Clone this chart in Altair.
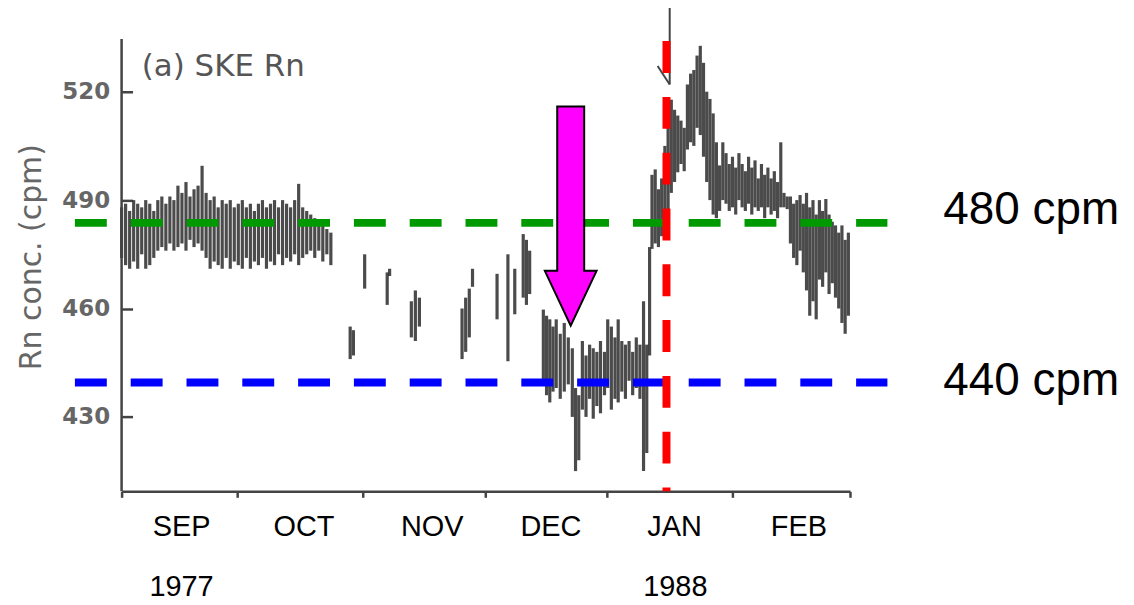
import altair as alt
import pandas as pd

# ---- scanned Rn series: day (since 1 Sep), low and high of each vertical trace ----
days = [0, 1, 2, 3, 4, 5, 6, 7, 8, 9, 10, 11, 12, 13, 14, 15, 16, 17, 18, 19, 20,
        21, 22, 23, 24, 25, 26, 27, 28, 29, 30, 31, 32, 33, 34, 35, 36, 37, 38, 39,
        40, 41, 42, 43, 44, 45, 46, 47, 48, 49, 50, 51, 52,
        56.8, 57.6, 60.4, 66, 66.6, 72, 73, 74, 84.6, 85.5, 86.4, 87.2, 93.3, 96,
        97.7, 99.8, 100.6, 101.4,
        104.8, 105.6, 106.4, 107.2, 108, 109, 110, 111, 112, 112.8, 113.6, 114.5,
        115.4, 116.3, 117.2, 118.1, 119, 120, 120.8, 121.7, 122.6, 123.4, 124.3,
        125.2, 126.1, 127, 127.9, 128.8, 129.7, 130.5, 131.2,
        131.8, 132.6, 133.4, 134.2, 135, 135.8, 136.6, 137.4, 138.2, 139, 139.8,
        140.6, 141.4, 142.2, 143, 143.8, 144.6, 145.4, 146.2, 147, 147.8, 148.6,
        149.4, 150.2, 151, 151.8, 152.6, 153.4, 154.2, 155, 155.8, 156.6, 157.4,
        158.2, 159, 159.8, 160.6, 161.4, 162.2, 163, 163.8, 164.6, 165.4, 166.2,
        167, 167.8, 168.6, 169.4, 170.2, 171, 171.8, 172.6, 173.4, 174.2, 175,
        175.8, 176.6, 177.4, 178.2, 179, 179.8, 180.6]
lows = [474, 472, 471, 473, 471, 475, 471, 472, 474, 476, 477, 476, 478, 476, 477,
        478, 476, 479, 477, 478, 476, 474, 471, 473, 472, 471, 474, 471, 473, 472,
        471, 474, 471, 473, 472, 474, 471, 473, 472, 475, 472, 474, 473, 475, 472,
        474, 475, 476, 474, 476, 473, 475, 472,
        446, 447, 465.5, 461, 469, 452, 451, 455, 446, 448, 452, 466, 457, 445.4,
        458.4, 463, 461, 464,
        440, 436, 434, 437, 438, 435, 437, 439, 430, 415, 418, 432, 430, 435,
        429.5, 433, 431, 436, 438, 432, 435, 434, 437, 435, 440, 436, 438, 435,
        415, 420, 447,
        476.5, 478, 477, 480, 485, 487, 492, 495, 497.7, 500, 498, 504, 506, 505,
        510, 508, 502, 495, 490, 486, 485, 487, 490, 489, 487, 488, 486, 490, 488,
        487, 489, 486, 488, 487, 488, 485, 488, 486, 487, 485, 488, 488, 487.5,
        478, 474, 472, 476, 470, 465, 458, 462, 457, 468, 466, 470, 464, 467, 463,
        460, 456, 453, 458]
highs = [488, 489, 487, 490, 489, 488, 490, 489, 487, 490, 491, 489, 491, 490, 494,
         492, 495, 491, 493, 494, 499.5, 492, 490, 491, 488, 490, 489, 490, 488,
         489, 490, 488, 489, 487, 489, 490, 488, 489, 490, 488, 490, 489, 488, 490,
         494.5, 488, 487, 486, 485, 484, 483, 482, 481,
         455, 454, 475, 470, 471, 462, 465, 463, 460, 463, 465.5, 471, 469.6, 475,
         471, 480.6, 479, 476,
         459.7, 458, 457, 455, 457, 453, 456, 452, 449, 438, 436, 451, 447, 450,
         449, 448, 451, 448, 457, 455, 452, 457, 451, 450, 451, 448, 452, 450, 462,
         450, 477,
         497, 498.5, 493, 496, 505, 510, 517.8, 515, 513.4, 512, 510, 522, 525, 526,
         530, 532.7, 528, 520, 518, 514, 506, 499.6, 506, 503, 500, 502, 499, 503,
         500, 498, 502, 499, 501, 496, 500, 497, 499, 496, 498, 495, 506, 492, 491,
         491, 489, 490, 491.4, 489, 492, 488, 490, 486, 490, 487, 490.3, 486, 484,
         483, 481, 483, 479, 481]

# earthquake marker drawn on the original figure
quake_x = [133.2, 136.2]
quake_x2 = [136.2, 136.2]
quake_y = [527.1, 522.0]
quake_y2 = [522.0, 545.0]

# axis and annotation values
y_ticks = [430, 460, 490, 520]
month_edges = [0, 28.7, 59.9, 90.3, 120.5, 151.7, 181]
months = ["SEP", "OCT", "NOV", "DEC", "JAN", "FEB"]
month_mid = [14.9, 45.3, 77.2, 106.7, 137.4, 168.3]
month_val = [399.4] * 6
years = ["1977", "1988"]
year_x = [14.9, 137.6]
year_val = [383.0, 383.0]
level_labels = ["480 cpm", "440 cpm"]
level_vals = [483.7, 439.5]
level_label_vals = [487.2, 439.9]
level_colors = ["#009900", "#0000ff"]
level_x0 = -11.6
level_x1 = 190.3
label_x = 204.2
event_day = 135.4
arrow_day = [111.6]
arrow_val = [485.6]
panel_title = "(a) SKE Rn"
title_x = [5.0]
title_val = [524.4]

Y_DOM = [409.4, 534.6]
X_DOM = [0, 181]

xs = alt.Scale(domain=X_DOM, nice=False, zero=False)
ys = alt.Scale(domain=Y_DOM, nice=False, zero=False)

series = pd.DataFrame({"day": days, "lo": lows, "hi": highs})
quake = pd.DataFrame({"x": quake_x, "x2": quake_x2, "y": quake_y, "y2": quake_y2})
levels = pd.DataFrame({"x0": [level_x0] * 2, "x1": [level_x1] * 2, "v": level_vals,
                       "c": level_colors})
labels = pd.DataFrame({"x": [label_x] * 2, "v": level_label_vals, "t": level_labels})
mdf = pd.DataFrame({"x": month_mid, "v": month_val, "t": months})
ydf = pd.DataFrame({"x": year_x, "v": year_val, "t": years})
axis_df = pd.DataFrame({"x": [X_DOM[0]], "y": [Y_DOM[0]], "y2": [Y_DOM[1]]})
red_df = pd.DataFrame({"x": [event_day], "top": [534.0], "bot": [Y_DOM[0]]})
arrow_df = pd.DataFrame({"x": arrow_day, "v": arrow_val})
title_df = pd.DataFrame({"x": title_x, "v": title_val, "t": [panel_title]})

xaxis = alt.Axis(values=month_edges, labels=False, title=None, grid=False,
                 tickSize=6, tickWidth=2.5, tickColor="#444", domainColor="#444",
                 domainWidth=2.5)
yaxis = alt.Axis(values=y_ticks, title="Rn conc. (cpm)", grid=False, domain=False,
                 offset=-11, tickSize=11, tickWidth=2.5, tickColor="#444",
                 labelFont="DejaVu Sans", labelFontSize=23, labelFontWeight="bold",
                 labelColor="#666", labelPadding=12, titleFont="DejaVu Sans",
                 titleFontSize=30, titleFontWeight="normal", titleColor="#666",
                 titlePadding=15, titleY=218.5)

data_layer = alt.Chart(series).mark_rule(color="#2b2b2b", strokeWidth=3.2,
                                         opacity=0.85).encode(
    x=alt.X("day:Q", scale=xs, axis=xaxis),
    y=alt.Y("lo:Q", scale=ys, axis=yaxis),
    y2="hi:Q",
)

left_line = alt.Chart(axis_df).mark_rule(color="#444", strokeWidth=2.5).encode(
    x=alt.X("x:Q", scale=xs), y=alt.Y("y:Q", scale=ys), y2="y2:Q")

quake_layer = alt.Chart(quake).mark_rule(color="#444", strokeWidth=2).encode(
    x=alt.X("x:Q", scale=xs), x2="x2:Q", y=alt.Y("y:Q", scale=ys), y2="y2:Q")

title_layer = alt.Chart(title_df).mark_text(
    align="left", baseline="alphabetic", font="DejaVu Sans", fontSize=31,
    color="#555").encode(x=alt.X("x:Q", scale=xs), y=alt.Y("v:Q", scale=ys), text="t:N")

level_layer = alt.Chart(levels).mark_rule(strokeWidth=8, strokeDash=[32, 24]).encode(
    x=alt.X("x0:Q", scale=xs), x2="x1:Q", y=alt.Y("v:Q", scale=ys),
    color=alt.Color("c:N", scale=None))

red_layer = alt.Chart(red_df).mark_rule(color="#ff0000", strokeWidth=8,
                                        strokeDash=[32, 24]).encode(
    x=alt.X("x:Q", scale=xs), y=alt.Y("top:Q", scale=ys), y2="bot:Q")

arrow_path = ("M -0.123 -1 L 0.123 -1 L 0.123 0.5 L 0.236 0.5 L 0 1 "
              "L -0.236 0.5 L -0.123 0.5 Z")
arrow_layer = alt.Chart(arrow_df).mark_point(
    shape=arrow_path, size=48400, filled=True, fill="#ff00ff", stroke="black",
    strokeWidth=2, opacity=1).encode(
    x=alt.X("x:Q", scale=xs), y=alt.Y("v:Q", scale=ys))

label_layer = alt.Chart(labels).mark_text(
    align="left", baseline="middle", font="Liberation Sans", fontSize=46,
    color="black").encode(x=alt.X("x:Q", scale=xs), y=alt.Y("v:Q", scale=ys), text="t:N")

month_layer = alt.Chart(mdf).mark_text(
    align="center", baseline="middle", font="Liberation Sans", fontSize=29,
    color="black").encode(x=alt.X("x:Q", scale=xs), y=alt.Y("v:Q", scale=ys), text="t:N")

year_layer = alt.Chart(ydf).mark_text(
    align="center", baseline="middle", font="Liberation Sans", fontSize=29,
    color="black").encode(x=alt.X("x:Q", scale=xs), y=alt.Y("v:Q", scale=ys), text="t:N")

chart = alt.layer(
    data_layer, left_line, quake_layer, title_layer, level_layer, red_layer,
    arrow_layer, label_layer, month_layer, year_layer,
).properties(
    width=731, height=454,
    padding={"left": 114, "top": 30, "right": 277, "bottom": 111},
    autosize=alt.AutoSizeParams(type="none"),
    background="white",
).configure_view(stroke=None)

chart.save("out.html", embed_options={"renderer": "svg", "actions": False})
